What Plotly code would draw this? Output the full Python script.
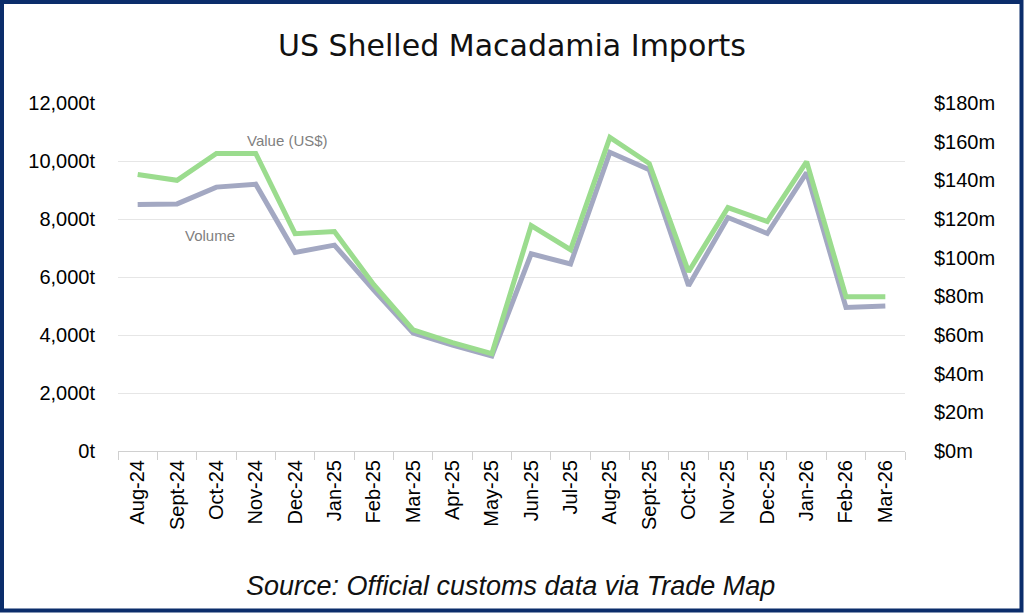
import plotly.graph_objects as go

months = ["Aug-24", "Sept-24", "Oct-24", "Nov-24", "Dec-24", "Jan-25", "Feb-25", "Mar-25",
          "Apr-25", "May-25", "Jun-25", "Jul-25", "Aug-25", "Sept-25", "Oct-25", "Nov-25",
          "Dec-25", "Jan-26", "Feb-26", "Mar-26"]
volume_t = [8500, 8520, 9100, 9200, 6850, 7100, 5550, 4070, 3650, 3280,
            6800, 6450, 10300, 9700, 5700, 8050, 7500, 9600, 4950, 5000]
value_usd_m = [143.0, 140.0, 153.9, 153.9, 112.4, 113.5, 86.0, 62.7, 56.0, 50.3,
               116.6, 104.1, 162.2, 148.7, 92.7, 125.9, 118.7, 149.7, 79.8, 79.8]
left_ticks = [0, 2000, 4000, 6000, 8000, 10000, 12000]
left_labels = ["0t", "2,000t", "4,000t", "6,000t", "8,000t", "10,000t", "12,000t"]
right_ticks = [0, 20, 40, 60, 80, 100, 120, 140, 160, 180]
right_labels = ["$0m", "$20m", "$40m", "$60m", "$80m", "$100m", "$120m", "$140m", "$160m", "$180m"]

W, H = 1024, 613
L, R, T, B = 118, 119, 103, 162
pw, ph = W - L - R, H - T - B

def px(x):
    return (x - L) / pw

def py(y):
    return (H - B - y) / ph

fig = go.Figure()
fig.add_trace(go.Scatter(x=months, y=volume_t, name="Volume", mode="lines",
                         line=dict(color="#a3a8c2", width=5), yaxis="y"))
fig.add_trace(go.Scatter(x=months, y=value_usd_m, name="Value", mode="lines",
                         line=dict(color="#9bdc8e", width=5), yaxis="y2"))

tickfont = dict(family="Liberation Sans, Arial, sans-serif", size=20, color="#000000")

fig.update_layout(
    width=W, height=H,
    margin=dict(l=L, r=R, t=T, b=B),
    paper_bgcolor="white", plot_bgcolor="white",
    showlegend=False,
    title=dict(text="US Shelled Macadamia Imports", x=0.5, xanchor="center",
               y=1 - 45 / H, yanchor="middle",
               font=dict(family="DejaVu Sans, sans-serif", size=30, color="#111111")),
    xaxis=dict(type="category", tickangle=-90, tickfont=tickfont,
               showgrid=False, showline=True, linecolor="#d0d0d0", linewidth=1,
               ticks="outside", tickson="boundaries", ticklen=8, tickcolor="#d0d0d0",
               range=[-0.5, len(months) - 0.5]),
    yaxis=dict(range=[0, 12000], tickvals=left_ticks, ticktext=left_labels,
               tickfont=tickfont, showgrid=True, gridcolor="#e6e6e6", gridwidth=1,
               zeroline=False, showline=False, ticks="", ticklabelstandoff=22),
    yaxis2=dict(range=[0, 180], tickvals=right_ticks, ticktext=right_labels,
                overlaying="y", side="right", tickfont=tickfont, showgrid=False,
                zeroline=False, showline=False, ticks="", ticklabelstandoff=28),
    annotations=[
        dict(text="Value (US$)", x=px(245), y=py(130), xref="paper", yref="paper",
             showarrow=False, font=dict(family="Liberation Sans, Arial", size=15, color="#7f7f7f")),
        dict(text="Volume", x=px(183), y=py(235), xref="paper", yref="paper",
             showarrow=False, font=dict(family="Liberation Sans, Arial", size=15, color="#7f7f7f")),
        dict(text="<i>Source: Official customs data via Trade Map</i>", x=px(510), y=py(586),
             xref="paper", yref="paper", showarrow=False, xanchor="center", yanchor="middle",
             font=dict(family="Liberation Sans Narrow, Liberation Sans, Arial", size=27, color="#111111")),
    ],
    shapes=[
        dict(type="rect", xref="paper", yref="paper",
             x0=px(2), x1=px(W - 2.5), y0=py(H - 2.5), y1=py(2),
             line=dict(color="#0b2d6b", width=4), fillcolor="rgba(0,0,0,0)", layer="above"),
    ],
)

fig.write_html("out.html", config={"displayModeBar": False},
               post_script="document.body.style.margin='0';document.body.style.overflow='hidden';")
